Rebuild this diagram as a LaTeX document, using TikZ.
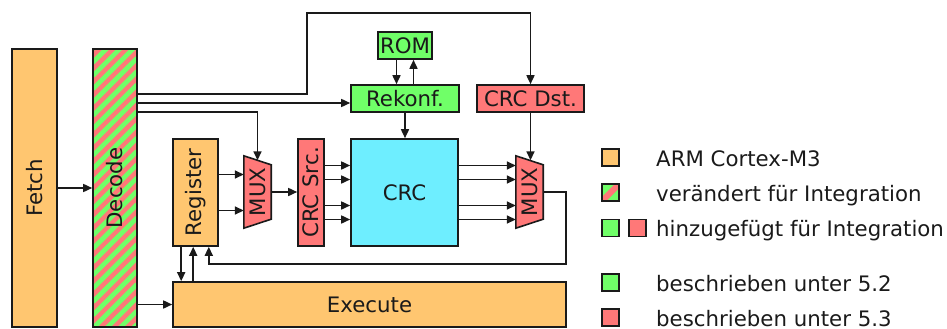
\documentclass[tikz,border=0pt]{standalone}
\usepackage{fontspec}
\setmainfont{DejaVu Sans}
\usetikzlibrary{arrows.meta,calc,backgrounds}
\definecolor{armorange}{RGB}{255,198,112}
\definecolor{newgreen}{RGB}{112,255,104}
\definecolor{newred}{RGB}{255,120,120}
\definecolor{crccyan}{RGB}{110,238,255}
\definecolor{linegray}{RGB}{26,26,26}
\tikzset{
  blk/.style={draw=linegray,line width=1.6pt,inner sep=0pt},
  muxbox/.style={minimum width=27pt,minimum height=72pt,inner sep=0pt},
  keybox/.style={blk,minimum width=17pt,minimum height=17pt},
  arr/.style={-{Triangle[length=9pt,width=8pt]},line width=1.6pt,draw=linegray},
  keytext/.style={anchor=base west,inner sep=0pt,text=linegray},
}
% trapezoid outline of a multiplexer around a (plain) node
\newcommand{\muxoutline}[1]{%
  \draw[blk,fill=newred] (#1.north west) -- ($(#1.north east)+(0,9)$)
    -- ($(#1.south east)+(0,-9)$) -- (#1.south west) -- cycle;
  \coordinate (#1-top) at ($(#1.north west)!0.5!(#1.north east)+(0,4.5)$);%
}

\begin{document}
\begin{tikzpicture}[x=1pt,y=-1pt,font=\fontsize{21.3}{25}\selectfont,text=linegray]
  \useasboundingbox (0,0) rectangle (947,329);
  % pipeline stages
  \node[blk,fill=armorange,minimum width=45pt,minimum height=278pt] (fetch)
    at (34.5,188) {\rotatebox{90}{Fetch}};
  \node[blk,minimum width=44pt,minimum height=278pt] (dec)
    at (115,188) {\rotatebox{90}{Decode}};
  \node[blk,fill=armorange,minimum width=393pt,minimum height=45pt] (exe)
    at (369.5,304.5) {Execute};
  \node[blk,fill=armorange,minimum width=45pt,minimum height=107pt] (reg)
    at (195.5,192.5) {\rotatebox{90}{Register}};
  % crc unit
  \node[muxbox] (mux1) at (257.5,192) {\rotatebox{90}{MUX}};
  \node[blk,fill=newred,minimum width=26pt,minimum height=107pt] (crcsrc)
    at (311,192.5) {\rotatebox{90}{CRC Src.}};
  \node[blk,fill=crccyan,minimum width=107pt,minimum height=107pt] (crc)
    at (404.5,192.5) {CRC};
  \node[muxbox] (mux2) at (529.5,192) {\rotatebox{90}{MUX}};
  \node[blk,fill=newgreen,minimum width=54pt,minimum height=27pt] (rom)
    at (405,45.5) {ROM};
  \node[blk,fill=newgreen,minimum width=108pt,minimum height=27pt] (rekonf)
    at (405,98.5) {Rekonf.};
  \node[blk,fill=newred,minimum width=107pt,minimum height=27pt] (crcdst)
    at (530.5,98.5) {CRC Dst.};
  % fills that sit behind the labels
  \begin{scope}[on background layer]
    \muxoutline{mux1}
    \muxoutline{mux2}
    \begin{scope}
      \clip (dec.south west) rectangle (dec.north east);
      \fill[newred] (dec.south west) rectangle (dec.north east);
      \foreach \y in {49,62.3,...,385}
        \draw[newgreen,line width=4.7pt] (93,\y) -- (137,\y-44);
    \end{scope}
  \end{scope}

  % pipeline flow
  \draw[arr] (fetch.east) -- (dec.west);
  \draw[arr] (dec.east |- exe.west) -- (exe.west);
  \draw[arr] ([xshift=9pt]reg.south west) -- ([xshift=9pt]reg.south west |- exe.north);
  \draw[arr] ([xshift=21pt]reg.south west |- exe.north) -- ([xshift=21pt]reg.south west);
  % control lines out of decode
  \coordinate (bend) at (307,13);
  \draw[arr] (dec.east |- 0,94) -| (bend) -| (crcdst.north);
  \draw[arr] (dec.east |- 0,103) -- (rekonf.west |- 0,103);
  \draw[arr] (dec.east |- 0,112) -| (mux1-top);
  % reconfiguration
  \draw[arr] ([xshift=-8.5pt]rom.south) -- ([xshift=-8.5pt]rekonf.north);
  \draw[arr] ([xshift=8.5pt]rekonf.north) -- ([xshift=8.5pt]rom.south);
  \draw[arr] (rekonf.south) -- (rekonf.south |- crc.north);
  \draw[arr] (crcdst.south) -- (crcdst.south |- mux2-top);
  % data path
  \foreach \dy in {-18,18}
    \draw[arr] ([yshift=\dy pt]reg.east) -- ([yshift=\dy pt]reg.east -| mux1.west);
  \draw[arr] (mux1.east) -- (mux1.east -| crcsrc.west);
  \foreach \dy in {-27,-13,13,27} {
    \draw[arr] ([yshift=\dy pt]crcsrc.east) -- ([yshift=\dy pt]crcsrc.east -| crc.west);
    \draw[arr] ([yshift=\dy pt]crc.east) -- ([yshift=\dy pt]crc.east -| mux2.west);
  }
  % result back into the register file
  \coordinate (loop) at (566,264);
  \draw[arr] (mux2.east) -| (loop) -| ([xshift=-10pt]reg.south east);

  % legend
  \node[keybox,fill=armorange] (keyarm) at (610.5,157.5) {};
  \node[keybox] (keymod) at (610.5,192.5) {};
  \node[keybox,fill=newgreen] (keyaddg) at (610.5,228) {};
  \node[keybox,fill=newred] (keyaddr) at (637.5,228) {};
  \node[keybox,fill=newgreen] (key52) at (610.5,282.5) {};
  \node[keybox,fill=newred] (key53) at (610.5,317.5) {};
  \begin{scope}[on background layer]
    \clip (keymod.south west) rectangle (keymod.north east);
    \fill[newgreen] (keymod.south west) rectangle (keymod.north east);
    \draw[newred,line width=6pt] (keymod.south west) -- (keymod.north east);
  \end{scope}
  \node[keytext] (txtarm) at (656,166) {ARM Cortex-M3};
  \node[keytext] (txtmod) at (656,201.5) {verändert für Integration};
  \node[keytext] (txtadd) at (656,236.5) {hinzugefügt für Integration};
  \node[keytext] (txt52) at (656,291.5) {beschrieben unter 5.2};
  \node[keytext] (txt53) at (656,326) {beschrieben unter 5.3};
\end{tikzpicture}
\end{document}
